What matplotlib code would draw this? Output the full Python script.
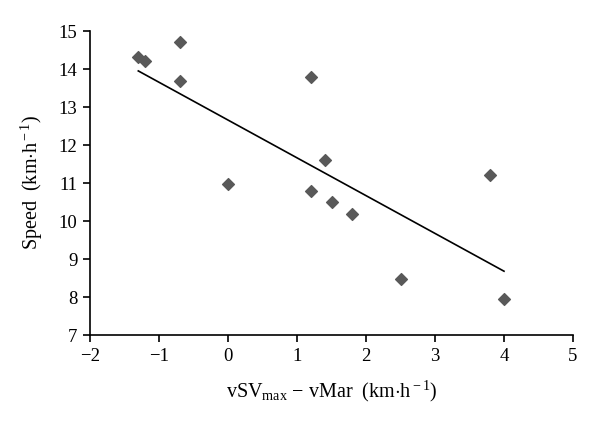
import numpy as np
import matplotlib
matplotlib.use("Agg")
import matplotlib.pyplot as plt

# значения
diff_speed = [-1.3, -1.2, -0.7, -0.7, 0.0, 1.2, 1.2, 1.4, 1.5, 1.8, 2.5, 3.8, 4.0]
speed = [14.33, 14.22, 14.72, 13.70, 10.97, 13.80, 10.78, 11.60, 10.50, 10.18, 8.48, 11.20, 7.96]

# линия тренда (наклон и сдвиг по картинке)
trend_slope = -0.995
trend_intercept = 12.66

x_ticks = [-2, -1, 0, 1, 2, 3, 4, 5]
y_ticks = [7, 8, 9, 10, 11, 12, 13, 14, 15]

plt.rcParams['font.family'] = ['Liberation Serif', 'DejaVu Serif']
plt.rcParams['mathtext.fontset'] = 'custom'
plt.rcParams['mathtext.rm'] = 'Liberation Serif'
plt.rcParams['mathtext.it'] = 'Liberation Serif:italic'

fig = plt.figure(figsize=(6, 4.33), dpi=100)
ax = fig.add_axes([0.15, 0.2263, 0.805, 0.7017])

ax.scatter(diff_speed, speed, marker='D', s=36, color='#595959', zorder=3)

xs = np.array([min(diff_speed), max(diff_speed)])
ax.plot(xs, trend_slope * xs + trend_intercept, color='black', lw=1.2)

ax.set_xlim(-2, 5)
ax.set_ylim(7, 15)
ax.set_xticks(x_ticks)
ax.set_yticks(y_ticks)
ax.set_xticklabels(['\u22122', '\u22121', '0', '1', '2', '3', '4', '5'])

for side in ['top', 'right']:
    ax.spines[side].set_visible(False)
for side in ['left', 'bottom']:
    ax.spines[side].set_linewidth(1.2)
ax.tick_params(direction='out', length=5, width=1.2, labelsize=13.5, pad=4)

ax.set_xlabel(r'vSV$_{\rm max}$ ' + '\u2212' + r' vMar  (km$\cdot$h$^{\rm -1}$)', fontsize=14.5, labelpad=10)
ax.set_ylabel(r'Speed  (km$\cdot$h$^{\rm -1}$)', fontsize=14.5, labelpad=10)

fig.savefig('out.png', dpi=100)
